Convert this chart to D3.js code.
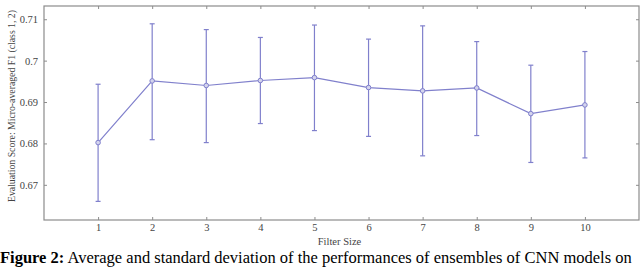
<!DOCTYPE html>
<style>
body { margin: 0; background: #fff; }
svg { display: block; }
</style>
<svg width="640" height="268"></svg>
<script src="https://d3js.org/d3.v7.min.js"></script>
<script>
const filterSizes = [1, 2, 3, 4, 5, 6, 7, 8, 9, 10];
const means = [0.6802, 0.6951, 0.6940, 0.6952, 0.6959, 0.6935, 0.6927, 0.6934, 0.6872, 0.6893];
const uppers = [0.6943, 0.7089, 0.7075, 0.7056, 0.7086, 0.7052, 0.7084, 0.7046, 0.6989, 0.7022];
const lowers = [0.6660, 0.6809, 0.6802, 0.6848, 0.6831, 0.6817, 0.6770, 0.6819, 0.6754, 0.6765];
const yTicks = [0.67, 0.68, 0.69, 0.7, 0.71];

const svg = d3.select("svg"),
      margin = {top: 6, right: 1, bottom: 48, left: 44},
      width = +svg.attr("width") - margin.left - margin.right,
      height = +svg.attr("height") - margin.top - margin.bottom,
      g = svg.append("g").attr("transform", `translate(${margin.left},${margin.top})`);

const data = filterSizes.map((x, i) => ({x, m: means[i], hi: uppers[i], lo: lowers[i]}));

const xScale = d3.scaleLinear().domain([0, 11]).range([0, width]),
      yScale = d3.scaleLinear().domain([0.6615, 0.7132]).range([height, 0]);

const col = "#8080cc",
      frame = "#8c8c8c",
      font = "'Liberation Serif', serif";

// ticks pointing inward on all four sides
const tk = 3;
g.append("g").attr("transform", `translate(0,${height})`)
  .call(d3.axisBottom(xScale).tickValues(filterSizes).tickSize(-tk).tickPadding(4));
g.append("g")
  .call(d3.axisLeft(yScale).tickValues(yTicks).tickSize(-tk).tickPadding(6).tickFormat(d3.format("")));
g.append("g").call(d3.axisTop(xScale).tickValues(filterSizes).tickSize(-tk).tickFormat(""));
g.append("g").attr("transform", `translate(${width},0)`)
  .call(d3.axisRight(yScale).tickValues(yTicks).tickSize(-tk).tickFormat(""));

g.selectAll(".domain").remove();
g.selectAll(".tick line").attr("stroke", frame);
g.selectAll(".tick text").attr("fill", "#444").style("font-family", font).style("font-size", "10.5px");

g.append("rect")
  .attr("width", width).attr("height", height)
  .attr("fill", "none").attr("stroke", frame).attr("stroke-width", 1.2);

// error bars
const eb = g.append("g").attr("stroke", col).attr("stroke-width", 1.2);
eb.selectAll("line.v").data(data).join("line").attr("class", "v")
  .attr("x1", d => xScale(d.x)).attr("x2", d => xScale(d.x))
  .attr("y1", d => yScale(d.lo)).attr("y2", d => yScale(d.hi));
eb.selectAll("line.t").data(data).join("line").attr("class", "t")
  .attr("x1", d => xScale(d.x) - 2.5).attr("x2", d => xScale(d.x) + 2.5)
  .attr("y1", d => yScale(d.hi)).attr("y2", d => yScale(d.hi));
eb.selectAll("line.b").data(data).join("line").attr("class", "b")
  .attr("x1", d => xScale(d.x) - 2.5).attr("x2", d => xScale(d.x) + 2.5)
  .attr("y1", d => yScale(d.lo)).attr("y2", d => yScale(d.lo));

const line = d3.line().x(d => xScale(d.x)).y(d => yScale(d.m));
g.append("path").datum(data)
  .attr("fill", "none").attr("stroke", col).attr("stroke-width", 1.2)
  .attr("d", line);

g.selectAll("circle.pt").data(data).join("circle").attr("class", "pt")
  .attr("cx", d => xScale(d.x)).attr("cy", d => yScale(d.m)).attr("r", 2.3)
  .attr("fill", "#d4d4ee").attr("stroke", col).attr("stroke-width", 1);

// axis labels
g.append("text")
  .attr("x", width / 2 - 2).attr("y", height + 25)
  .attr("text-anchor", "middle")
  .style("font-family", font).style("font-size", "10.5px").attr("fill", "#444")
  .text("Filter Size");

// label sits a bit above the plot centre in the reference
g.append("text")
  .attr("transform", "rotate(-90)")
  .attr("x", -(106 - margin.top)).attr("y", -margin.left + 15)
  .attr("text-anchor", "middle")
  .attr("textLength", 192).attr("lengthAdjust", "spacingAndGlyphs")
  .style("font-family", font).style("font-size", "10.5px").attr("fill", "#444")
  .text("Evaluation Score: Micro-averaged F1 (class 1, 2)");

// caption
const cap = svg.append("text")
  .attr("x", 0).attr("y", 263)
  .style("font-family", font).style("font-size", "16.5px").attr("fill", "#000");
cap.append("tspan").style("font-weight", "bold").text("Figure 2:");
cap.append("tspan").text(" Average and standard deviation of the performances of ensembles of CNN models on");
</script>
